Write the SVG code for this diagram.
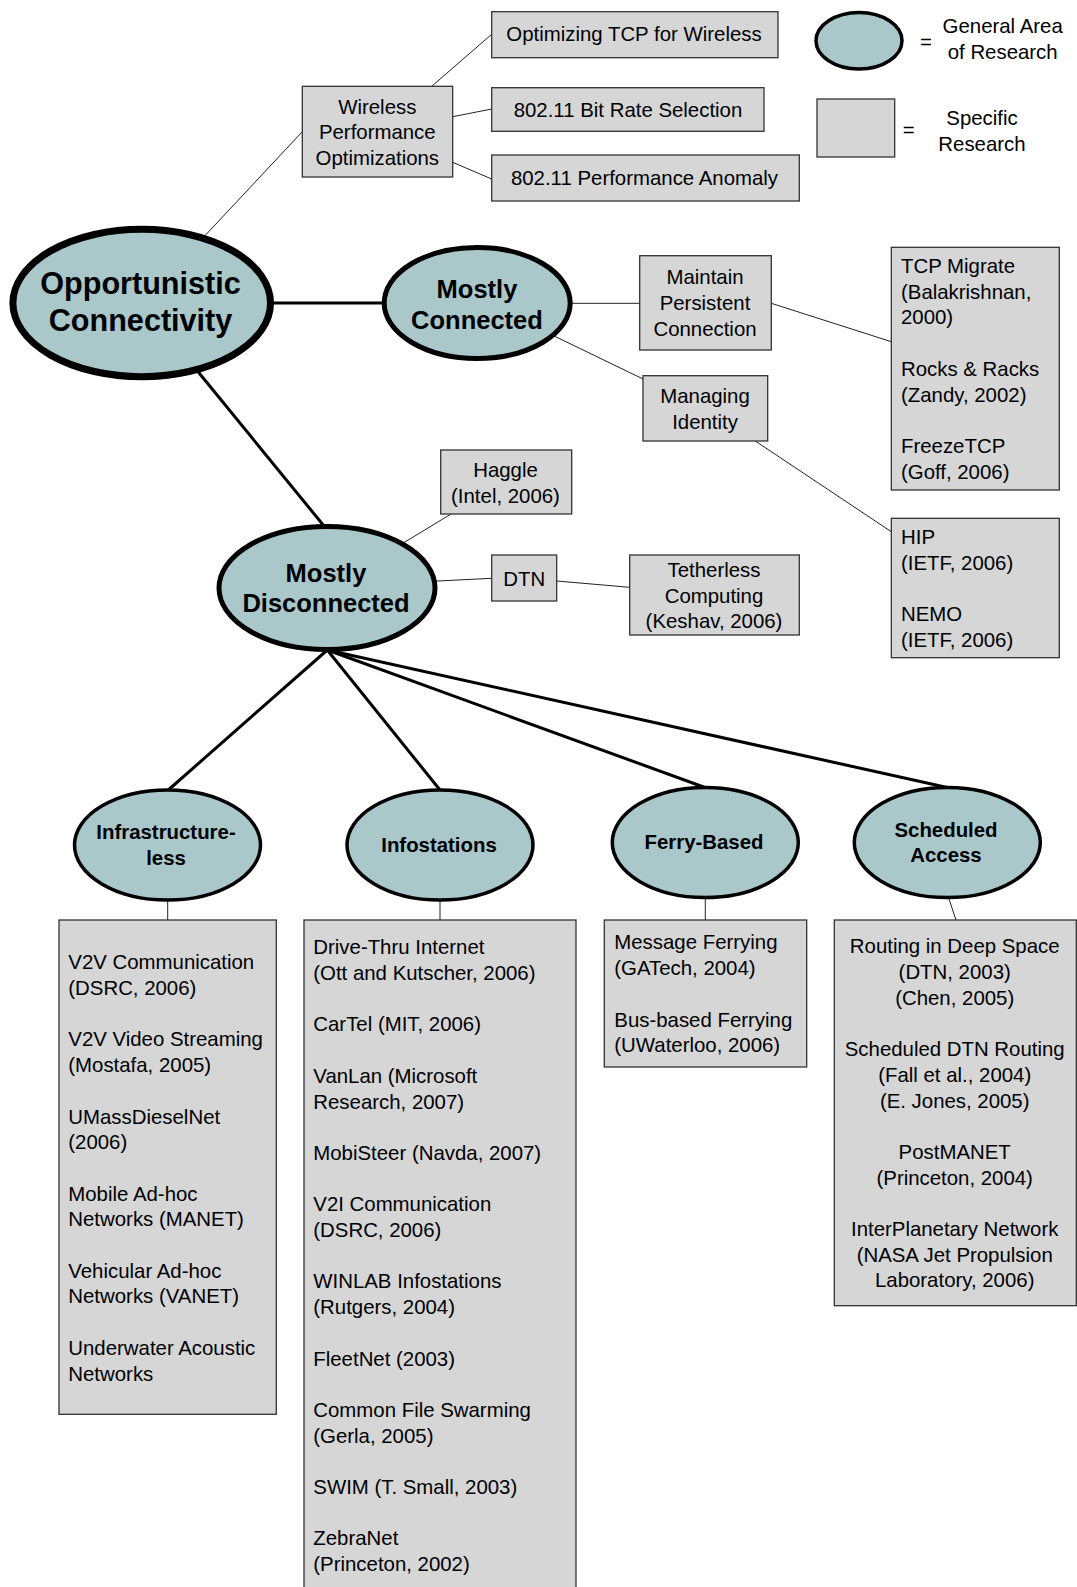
<svg xmlns="http://www.w3.org/2000/svg" width="1077" height="1587" viewBox="0 0 1077 1587">
<style>
text{font-family:"Liberation Sans",Arial,Helvetica,sans-serif;font-size:20.4px;fill:#000}
.c{text-anchor:middle}
.b{font-weight:bold}
.box{fill:#d6d6d6;stroke:#333;stroke-width:1.3}
.ell{fill:#aac8ca;stroke:#000}
.thin{stroke:#222;stroke-width:1;fill:none}
.thick{stroke:#000;stroke-width:3;fill:none}
</style>
<rect width="1077" height="1587" fill="#fff"/>
<g id="connectors">
<line class="thin" x1="491.7" y1="34.3" x2="431.7" y2="86.3"/>
<line class="thin" x1="452.7" y1="116.7" x2="491.7" y2="109"/>
<line class="thin" x1="452.7" y1="162.3" x2="491.7" y2="179"/>
<line class="thin" x1="302.3" y1="131.7" x2="200" y2="241"/>
<line class="thick" x1="260" y1="303" x2="390" y2="303"/>
<line class="thick" x1="195" y1="368" x2="324" y2="526"/>
<line class="thin" x1="560" y1="303.3" x2="639.7" y2="303.3"/>
<line class="thin" x1="548" y1="333" x2="643" y2="379"/>
<line class="thin" x1="771.3" y1="303.3" x2="891.3" y2="341.7"/>
<line class="thin" x1="755.3" y1="441" x2="891.3" y2="531.7"/>
<line class="thin" x1="400" y1="545" x2="451" y2="514"/>
<line class="thin" x1="430" y1="581.4" x2="491.7" y2="578.3"/>
<line class="thin" x1="556.7" y1="581" x2="629.7" y2="587.3"/>
<line class="thick" x1="327.3" y1="650" x2="168.3" y2="790"/>
<line class="thick" x1="327.3" y1="650" x2="440" y2="790"/>
<line class="thick" x1="327.3" y1="650" x2="705" y2="787.5"/>
<line class="thick" x1="327.3" y1="650" x2="947.3" y2="787.5"/>
<line class="thin" x1="167.7" y1="895" x2="167.7" y2="920"/>
<line class="thin" x1="440" y1="895" x2="440" y2="920"/>
<line class="thin" x1="705.3" y1="893" x2="705.3" y2="920"/>
<line class="thin" x1="947" y1="893" x2="956" y2="920"/>
</g>
<g id="legend">
<ellipse class="ell" cx="859" cy="40.7" rx="43" ry="28.3" stroke-width="3.5"/>
<text x="926" y="48.5" class="c">=</text>
<text x="1002.7" y="33.3" class="c">General Area</text>
<text x="1002.7" y="59.3" class="c">of Research</text>
<rect class="box" x="817" y="99" width="77.7" height="58"/>
<text x="908.7" y="137" class="c">=</text>
<text x="982" y="125" class="c">Specific</text>
<text x="982" y="150.7" class="c">Research</text>
</g>
<g id="opt-tcp">
<rect class="box" x="491.7" y="11.7" width="286.3" height="46"/>
<text x="634" y="41" class="c">Optimizing TCP for Wireless</text>
</g>
<g id="bitrate">
<rect class="box" x="491.7" y="87.7" width="272.3" height="43.6"/>
<text x="628" y="116.5" class="c">802.11 Bit Rate Selection</text>
</g>
<g id="anomaly">
<rect class="box" x="491.7" y="155" width="307.6" height="46"/>
<text x="644.5" y="185" class="c">802.11 Performance Anomaly</text>
</g>
<g id="wireless">
<rect class="box" x="302.3" y="86.3" width="150.4" height="90.7"/>
<text x="377.3" y="113.5" class="c">Wireless</text>
<text x="377.3" y="139" class="c">Performance</text>
<text x="377.3" y="164.5" class="c">Optimizations</text>
</g>
<g id="opportunistic">
<ellipse class="ell" cx="141.7" cy="303" rx="128.8" ry="73.7" stroke-width="7"/>
<text x="140.5" y="294" class="c b" style="font-size:30.6px">Opportunistic</text>
<text x="140.5" y="330.5" class="c b" style="font-size:30.6px">Connectivity</text>
</g>
<g id="mostly-connected">
<ellipse class="ell" cx="477.2" cy="303" rx="93" ry="55.5" stroke-width="5"/>
<text x="477" y="298" class="c b" style="font-size:25.5px">Mostly</text>
<text x="477" y="328.7" class="c b" style="font-size:25.5px">Connected</text>
</g>
<g id="maintain">
<rect class="box" x="639.7" y="255.7" width="131.6" height="94.3"/>
<text x="705" y="284" class="c">Maintain</text>
<text x="705" y="310" class="c">Persistent</text>
<text x="705" y="335.5" class="c">Connection</text>
</g>
<g id="managing">
<rect class="box" x="643" y="375.7" width="124.7" height="65.3"/>
<text x="705" y="403.3" class="c">Managing</text>
<text x="705" y="428.5" class="c">Identity</text>
</g>
<g id="tcp-migrate">
<rect class="box" x="891.3" y="247.3" width="168" height="242.7"/>
<text x="901" y="272.7">TCP Migrate</text>
<text x="901" y="298.5">(Balakrishnan,</text>
<text x="901" y="324.3">2000)</text>
<text x="901" y="375.9">Rocks &amp; Racks</text>
<text x="901" y="401.7">(Zandy, 2002)</text>
<text x="901" y="453.3">FreezeTCP</text>
<text x="901" y="479.1">(Goff, 2006)</text>
</g>
<g id="hip">
<rect class="box" x="891.3" y="518.3" width="168" height="139.4"/>
<text x="901" y="544">HIP</text>
<text x="901" y="569.7">(IETF, 2006)</text>
<text x="901" y="621">NEMO</text>
<text x="901" y="646.7">(IETF, 2006)</text>
</g>
<g id="haggle">
<rect class="box" x="440.7" y="450" width="131" height="64"/>
<text x="505.5" y="477" class="c">Haggle</text>
<text x="505.5" y="502.5" class="c">(Intel, 2006)</text>
</g>
<g id="mostly-disconnected">
<ellipse class="ell" cx="327" cy="588" rx="108" ry="61.5" stroke-width="5"/>
<text x="326" y="582" class="c b" style="font-size:25.5px">Mostly</text>
<text x="326" y="612.3" class="c b" style="font-size:25.5px">Disconnected</text>
</g>
<g id="dtn">
<rect class="box" x="491.7" y="555" width="65" height="46"/>
<text x="524.2" y="585.5" class="c">DTN</text>
</g>
<g id="tetherless">
<rect class="box" x="629.7" y="555" width="169.6" height="80"/>
<text x="714" y="576.7" class="c">Tetherless</text>
<text x="714" y="602.5" class="c">Computing</text>
<text x="714" y="628.3" class="c">(Keshav, 2006)</text>
</g>
<g id="infrastructure-less">
<ellipse class="ell" cx="167.5" cy="845" rx="93" ry="55" stroke-width="3.5"/>
<text x="166" y="839.3" class="c b">Infrastructure-</text>
<text x="166" y="865" class="c b">less</text>
</g>
<g id="infostations">
<ellipse class="ell" cx="440" cy="845" rx="93" ry="55" stroke-width="3.5"/>
<text x="439" y="852.3" class="c b">Infostations</text>
</g>
<g id="ferry-based">
<ellipse class="ell" cx="705.3" cy="842.5" rx="93" ry="55" stroke-width="3.5"/>
<text x="704" y="849" class="c b">Ferry-Based</text>
</g>
<g id="scheduled-access">
<ellipse class="ell" cx="947.3" cy="842.5" rx="93" ry="55" stroke-width="3.5"/>
<text x="946" y="836.7" class="c b">Scheduled</text>
<text x="946" y="861.7" class="c b">Access</text>
</g>
<g id="infra-list">
<rect class="box" x="59" y="920" width="217.3" height="494.3"/>
<text x="68.3" y="969.3">V2V Communication</text>
<text x="68.3" y="995">(DSRC, 2006)</text>
<text x="68.3" y="1046.4">V2V Video Streaming</text>
<text x="68.3" y="1072.1">(Mostafa, 2005)</text>
<text x="68.3" y="1123.5">UMassDieselNet</text>
<text x="68.3" y="1149.2">(2006)</text>
<text x="68.3" y="1200.6">Mobile Ad-hoc</text>
<text x="68.3" y="1226.3">Networks (MANET)</text>
<text x="68.3" y="1277.7">Vehicular Ad-hoc</text>
<text x="68.3" y="1303.4">Networks (VANET)</text>
<text x="68.3" y="1354.8">Underwater Acoustic</text>
<text x="68.3" y="1380.5">Networks</text>
</g>
<g id="infostations-list">
<rect class="box" x="304" y="920" width="272" height="700"/>
<text x="313.3" y="954.3">Drive-Thru Internet</text>
<text x="313.3" y="980">(Ott and Kutscher, 2006)</text>
<text x="313.3" y="1031.4">CarTel (MIT, 2006)</text>
<text x="313.3" y="1082.8">VanLan (Microsoft</text>
<text x="313.3" y="1108.5">Research, 2007)</text>
<text x="313.3" y="1159.9">MobiSteer (Navda, 2007)</text>
<text x="313.3" y="1211.3">V2I Communication</text>
<text x="313.3" y="1237">(DSRC, 2006)</text>
<text x="313.3" y="1288.4">WINLAB Infostations</text>
<text x="313.3" y="1314.1">(Rutgers, 2004)</text>
<text x="313.3" y="1365.5">FleetNet (2003)</text>
<text x="313.3" y="1416.9">Common File Swarming</text>
<text x="313.3" y="1442.6">(Gerla, 2005)</text>
<text x="313.3" y="1494">SWIM (T. Small, 2003)</text>
<text x="313.3" y="1545.4">ZebraNet</text>
<text x="313.3" y="1571.1">(Princeton, 2002)</text>
</g>
<g id="ferry-list">
<rect class="box" x="604.3" y="920" width="202.4" height="147"/>
<text x="614.3" y="949.3">Message Ferrying</text>
<text x="614.3" y="975">(GATech, 2004)</text>
<text x="614.3" y="1026.6">Bus-based Ferrying</text>
<text x="614.3" y="1052.3">(UWaterloo, 2006)</text>
</g>
<g id="scheduled-list">
<rect class="box" x="834.3" y="920" width="242" height="385.7"/>
<text x="954.7" y="953.3" class="c">Routing in Deep Space</text>
<text x="954.7" y="979" class="c">(DTN, 2003)</text>
<text x="954.7" y="1004.7" class="c">(Chen, 2005)</text>
<text x="954.7" y="1056.1" class="c">Scheduled DTN Routing</text>
<text x="954.7" y="1081.8" class="c">(Fall et al., 2004)</text>
<text x="954.7" y="1107.5" class="c">(E. Jones, 2005)</text>
<text x="954.7" y="1158.9" class="c">PostMANET</text>
<text x="954.7" y="1184.6" class="c">(Princeton, 2004)</text>
<text x="954.7" y="1236" class="c">InterPlanetary Network</text>
<text x="954.7" y="1261.7" class="c">(NASA Jet Propulsion</text>
<text x="954.7" y="1287.4" class="c">Laboratory, 2006)</text>
</g>
</svg>
